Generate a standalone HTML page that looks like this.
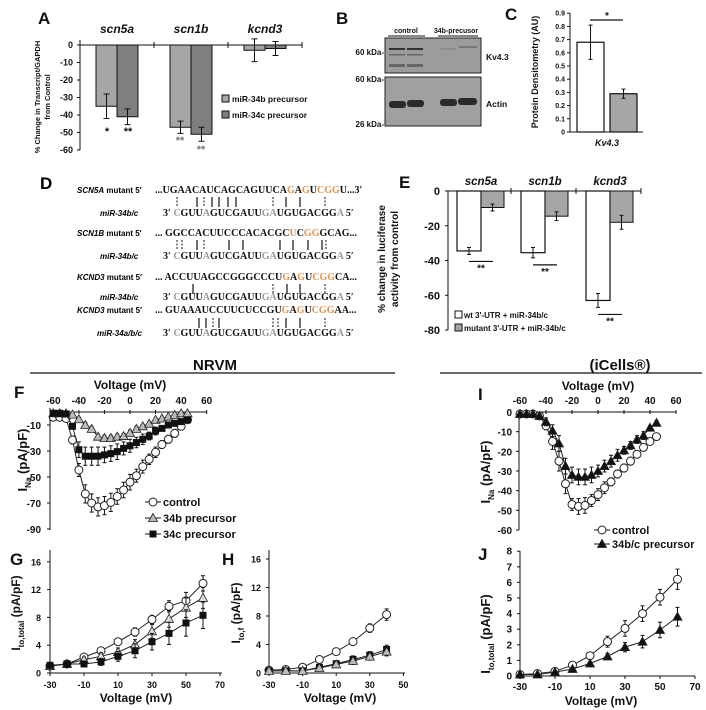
<!DOCTYPE html>
<html><head><meta charset="utf-8"><style>
html,body{margin:0;padding:0;background:#fff;}
svg{display:block;font-family:"Liberation Sans",sans-serif;}
.t{font-weight:bold;}
.sq{font-family:"Liberation Serif",serif;font-weight:bold;font-size:10px;fill:#111;}
.o{fill:#e8914a;}
.g{fill:#9a9a9a;}
</style></head><body>
<svg id="fig" width="706" height="710" viewBox="0 0 706 710" xmlns="http://www.w3.org/2000/svg">
<g>
<text x="40" y="189" font-size="17" font-weight="bold">D</text>
<text x="77" y="193" class="t" font-size="8"><tspan font-style="italic">SCN5A</tspan> mutant 5′</text>
<text x="155" y="193" class="sq">...<tspan>UGAACAUCAGCAGUUCA</tspan><tspan class="o">G</tspan>A<tspan class="o">G</tspan>U<tspan class="o">CGG</tspan>U...3′</text>
<text x="100" y="216" class="t" font-size="8" font-style="italic">miR-34b/c</text>
<text x="163" y="216" class="sq">3′ <tspan class="g">C</tspan>GUU<tspan class="g">A</tspan>GUCGAUU<tspan class="g">GA</tspan>UGUGACGG<tspan class="g">A</tspan>    5′</text>
<text x="77" y="236" class="t" font-size="8"><tspan font-style="italic">SCN1B</tspan> mutant 5′</text>
<text x="155" y="236" class="sq">...  GGCCACUUCCCACACGC<tspan class="o">U</tspan>C<tspan class="o">GG</tspan>GCAG...</text>
<text x="100" y="259" class="t" font-size="8" font-style="italic">miR-34b/c</text>
<text x="163" y="259" class="sq">3′ <tspan class="g">C</tspan>GUU<tspan class="g">A</tspan>GUCGAUU<tspan class="g">GA</tspan>UGUGACGG<tspan class="g">A</tspan>    5′</text>
<text x="77" y="280" class="t" font-size="8"><tspan font-style="italic">KCND3</tspan> mutant 5′</text>
<text x="155" y="280" class="sq">...  ACCUUAGCCGGGCCCU<tspan class="o">G</tspan>A<tspan class="o">G</tspan>U<tspan class="o">CGG</tspan>CA...</text>
<text x="100" y="300" class="t" font-size="8" font-style="italic">miR-34b/c</text>
<text x="163" y="300" class="sq">3′ <tspan class="g">C</tspan>GUU<tspan class="g">A</tspan>GUCGAUU<tspan class="g">GA</tspan>UGUGACGG<tspan class="g">A</tspan>    5′</text>
<text x="77" y="313" class="t" font-size="8"><tspan font-style="italic">KCND3</tspan> mutant 5′</text>
<text x="155" y="313" class="sq">...  GUAAAUCCUUCUCCGU<tspan class="o">G</tspan>A<tspan class="o">G</tspan>U<tspan class="o">CGG</tspan>AA...</text>
<text x="97" y="336" class="t" font-size="8" font-style="italic">miR-34a/b/c</text>
<text x="163" y="336" class="sq">3′ <tspan class="g">C</tspan>GUU<tspan class="g">A</tspan>GUCGAUU<tspan class="g">GA</tspan>UGUGACGG<tspan class="g">A</tspan>    5′</text>
<path stroke="#111" stroke-width="1.2" fill="none" d="M197 197v10M212 197v10M219 197v10M228 197v10M236 197v10M286 197v10M300 197v10 M197 240v10M229 240v10M243 240v10M280 240v10M293 240v10M308 240v10M322 240v10 M193 284v10M287 284v10M300 284v10 M199 318v10M206 318v10M219 318v10M286 318v10M300 318v10"/>
<path stroke="#111" stroke-width="1" stroke-dasharray="2,1.5" fill="none" d="M177 197v10M204 197v10M273 197v10M325 197v10 M177 240v10M182 240v10M204 240v10M326 240v10 M273 284v10M325 284v10 M213 318v10M273 318v10M278 318v10M325 318v10"/>
</g>
</svg>
<script>
// ---------- data ----------
const A_cats = ['scn5a','scn1b','kcnd3'];
const A_b = [-35,-47,-3];
const A_bErr = [7,3.5,6.5];
const A_c = [-41,-51,-2];
const A_cErr = [4.5,4,4];
const A_ticks = [0,-10,-20,-30,-40,-50,-60];

const C_cats = ['control','34b-precursor'];
const C_vals = [0.68,0.29];
const C_err = [0.13,0.035];
const C_ticks = [0,0.1,0.2,0.3,0.4,0.5,0.6,0.7,0.8,0.9];

const E_cats = ['scn5a','scn1b','kcnd3'];
const E_wt = [-34.5,-35.5,-63];
const E_wtErr = [2,3,4];
const E_mut = [-9.5,-14.5,-18];
const E_mutErr = [2,2.5,4];
const E_ticks = [0,-20,-40,-60,-80];

const NA_v = [-60,-55,-50,-45,-40,-35,-30,-25,-20,-15,-10,-5,0,5,10,15,20,25,30,35,40,45];
const F_ctrl = [-4,-4,-5,-21.5,-44.6,-63,-70,-73,-72,-69.5,-65,-60,-54,-49,-42,-36.4,-31,-25,-21,-16.4,-11,-6];
const F_ctrlErr = [1,1,1,3,5,7,7,7,7,7,6,6,6,5,5,4,4,3,3,3,2,2];
const F_b = [-1,-1,-1,-2,-5.6,-10,-13,-19,-20,-20,-19,-18.5,-16,-13,-11,-9,-6,-5,-3.6,-2.3,-1,-1];
const F_bErr = [0.5,0.5,0.5,1,1.5,2,2,2,2,2,2,2,2,2,1.5,1.5,1.5,1,1,1,1,1];
const F_c = [-1,-1,-1.5,-11,-29,-34,-34,-34,-33,-32,-30.5,-28,-26,-23.5,-21,-18.5,-14.6,-12.6,-10,-8.7,-7.4,-6];
const F_cErr = [0.5,0.5,1,2,6,7,7,7,6,6,6,5,5,4,4,3,3,2,2,2,2,2];
const F_xticks = [-60,-40,-20,0,20,40,60];
const F_yticks = [-10,-30,-50,-70,-90];

const G_v = [-30,-20,-10,0,10,20,30,40,50,60];
const G_ctrl = [1.0,1.3,2.3,3.2,4.5,5.9,7.7,9.6,10.4,12.9];
const G_ctrlErr = [0.3,0.3,0.4,0.4,0.5,0.6,0.6,0.8,1.2,1.1];
const G_b = [1.0,1.3,1.9,2.4,3.0,4.1,6.0,7.8,9.4,10.8];
const G_bErr = [0.3,0.3,0.4,0.5,0.6,0.7,1,1.2,1.4,1.5];
const G_c = [1.1,1.3,1.3,1.6,2.4,3.2,4.5,5.7,7.2,8.3];
const G_cErr = [0.4,0.3,0.4,0.5,0.7,1,1.2,1.6,1.9,1.9];
const G_xticks = [-30,-10,10,30,50,70];
const G_yticks = [0,4,8,12,16];

const H_v = [-30,-20,-10,0,10,20,30,40];
const H_ctrl = [0.4,0.5,0.8,1.9,3.0,4.4,6.3,8.2];
const H_ctrlErr = [0.2,0.2,0.2,0.3,0.4,0.4,0.6,0.8];
const H_b = [0.3,0.3,0.3,0.7,1.2,1.7,2.3,3.0];
const H_bErr = [0.1,0.1,0.1,0.3,0.4,0.5,0.5,0.6];
const H_c = [0.3,0.3,0.3,0.8,1.3,1.9,2.5,3.3];
const H_cErr = [0.1,0.1,0.1,0.3,0.4,0.5,0.5,0.6];
const H_xticks = [-30,-10,10,30,50];
const H_yticks = [0,4,8,12,16];

const I_ctrl = [-1,-1,-1,-2,-7,-15,-25,-36.5,-47,-48,-47.5,-45,-42,-38.5,-35.5,-31.5,-28.5,-25,-21.5,-18,-15,-12.5];
const I_ctrlErr = [0.5,0.5,0.5,1,2,4,5,5,3,4,4,3,3,3,2,2,2,2,1.5,1.5,1,1];
const I_tri = [-1,-1,-1,-2,-5,-9.5,-16,-27.5,-32,-33,-33,-32,-30,-27.5,-25,-22,-19.5,-17,-14,-12,-8,-5.5];
const I_triErr = [0.5,0.5,0.5,1,2,3,4,4,4,4,4,4,3,3,3,3,2,2,2,2,1,1];
const I_xticks = [-60,-40,-20,0,20,40,60];
const I_yticks = [0,-10,-20,-30,-40,-50,-60];

const J_v = [-30,-20,-10,0,10,20,30,40,50,60];
const J_ctrl = [0.1,0.15,0.3,0.7,1.3,2.2,3.05,4.0,5.05,6.2];
const J_ctrlErr = [0.05,0.05,0.1,0.1,0.15,0.35,0.5,0.5,0.5,0.65];
const J_tri = [0.1,0.1,0.25,0.45,0.8,1.25,1.85,2.2,2.95,3.8];
const J_triErr = [0.05,0.05,0.1,0.1,0.1,0.2,0.3,0.4,0.5,0.6];
const J_xticks = [-30,-10,10,30,50,70];
const J_yticks = [0,1,2,3,4,5,6,7,8];

// ---------- helpers ----------
const svg = document.getElementById('fig');
const NS = 'http://www.w3.org/2000/svg';
function mk(tag, attrs, parent){ const e=document.createElementNS(NS,tag); for(const k in attrs) e.setAttribute(k,attrs[k]); (parent||svg).appendChild(e); return e; }
function tx(x,y,s,attrs,parent){ const e=mk('text',Object.assign({x:x,y:y,'class':'t','font-size':9,fill:'#111'},attrs||{}),parent); e.textContent=s; return e; }
function grp(name){ const g=mk('g',{});   return g; }
function ln(x1,y1,x2,y2,parent,w){ return mk('line',{x1:x1,y1:y1,x2:x2,y2:y2,stroke:'#111','stroke-width':w||1},parent); }
function errBar(x,y1,y2,parent,cap){ cap=cap||3; ln(x,y1,x,y2,parent); ln(x-cap,y1,x+cap,y1,parent); ln(x-cap,y2,x+cap,y2,parent); }
function marker(type,x,y,fill,parent){
  let m;
  if(type==='circle') m=mk('circle',{cx:x,cy:y,r:4,fill:'#fff',stroke:'#222','stroke-width':1},parent);
  else if(type==='square') m=mk('rect',{x:x-3.5,y:y-3.5,width:7,height:7,fill:'#111'},parent);
  else m=mk('polygon',{points:(x)+','+(y-4.5)+' '+(x-4.5)+','+(y+3.5)+' '+(x+4.5)+','+(y+3.5),fill:fill,stroke:'#222','stroke-width':0.8},parent);
  return m;
}
function series(g, xs, ys, errs, xf, yf, type, fill, name){
  const pts = xs.map((v,i)=>xf(v)+','+yf(ys[i])).join(' ');
  const pl = mk('polyline',{points:pts,fill:'none',stroke:'#222','stroke-width':1},g);
  
  
  xs.forEach((v,i)=>{
    errBar(xf(v), yf(ys[i]-errs[i]), yf(ys[i]+errs[i]), g, 2);
  });
  xs.forEach((v,i)=>{
    const m = marker(type, xf(v), yf(ys[i]), fill, g);
    
    
  });
}
function rotLabel(x,y,parts,size,parent){
  const t=mk('text',{x:0,y:0,transform:'translate('+x+','+y+') rotate(-90)','text-anchor':'middle','font-size':size,'font-weight':'bold',fill:'#111'},parent);
  parts.forEach(p=>{ const s=mk('tspan',p.a||{},t); s.textContent=p.s; });
  return t;
}

// ---------- Panel A ----------
(function(){
  const g = grp('panel-a-transcript-chart');
  const yA = v => 45 - v*1.75;
  const cx = [117,191,265];
  tx(38,24,'A',{'font-size':17});
  A_ticks.forEach(t=>{ tx(73,yA(t)+3,String(t),{'text-anchor':'end'},g); ln(77,yA(t),80,yA(t),g); });
  ln(80,40,80,150,g);
  A_cats.forEach((c,i)=>{
    const h = tx(cx[i],33,c,{'text-anchor':'middle','font-size':12,'font-style':'italic'},g);
    
    
    const b = mk('rect',{x:cx[i]-21,y:yA(0),width:21,height:yA(A_b[i])-yA(0),fill:'#a6a6a6',stroke:'#111'},g);
    
    
    const b2 = mk('rect',{x:cx[i],y:yA(0),width:21,height:yA(A_c[i])-yA(0),fill:'#7f7f7f',stroke:'#111'},g);
    
    
    errBar(cx[i]-10.5, yA(A_b[i]-A_bErr[i]), yA(A_b[i]+A_bErr[i]), g);
    errBar(cx[i]+10.5, yA(A_c[i]-A_cErr[i]), yA(A_c[i]+A_cErr[i]), g);
  });
  ln(80,45,302,45,g); [154,228,302].forEach(x=>ln(x,42,x,48,g));
  tx(107,135,'*',{'font-size':11,'text-anchor':'middle'},g);
  tx(128,135,'**',{'font-size':11,'text-anchor':'middle'},g);
  tx(180,144,'**',{'font-size':11,'text-anchor':'middle','fill':'#777'},g);
  tx(201,153,'**',{'font-size':11,'text-anchor':'middle','fill':'#777'},g);
  const l1=mk('rect',{x:222,y:95,width:7,height:7,fill:'#a6a6a6',stroke:'#111'},g);
  
  
  tx(232,102,'miR-34b precursor',{'font-size':8.5},g);
  const l2=mk('rect',{x:222,y:111,width:7,height:7,fill:'#7f7f7f',stroke:'#111'},g);
  
  
  tx(232,118,'miR-34c precursor',{'font-size':8.5},g);
  rotLabel(40,97,[{s:'% Change in Transcript/GAPDH'}],7.5,g);
  rotLabel(50,97,[{s:'from Control'}],7.5,g);
})();

// ---------- Panel B (western blot) ----------
(function(){
  const g = grp('panel-b-western-blot');
  tx(336,24,'B',{'font-size':17});
  tx(406,33,'control',{'text-anchor':'middle','font-size':7,'font-weight':'normal'},g);
  tx(456,33,'34b-precusor',{'text-anchor':'middle','font-size':7,'font-weight':'normal'},g);
  ln(388,36,425,36,g); ln(438,36,478,36,g);
  mk('rect',{x:385,y:38,width:96,height:35,fill:'#9c9c9c',stroke:'#222'},g);
  mk('rect',{x:385,y:77,width:96,height:49,fill:'#a0a0a0',stroke:'#222'},g);
  [[389,48,16,2,'#333'],[407,48,16,2,'#333'],[389,54,16,1.5,'#666'],[407,54,16,1.5,'#666'],[389,64,16,3,'#666'],[407,64,16,3,'#666'],[441,48,16,1.5,'#888'],[459,46,18,2,'#777']].forEach(b=>mk('rect',{x:b[0],y:b[1],width:b[2],height:b[3],fill:b[4]},g));
  [[389,101,17,7],[407,100,17,7],[440,99,17,7],[458,98,19,7]].forEach(b=>mk('rect',{x:b[0],y:b[1],width:b[2],height:b[3],rx:3,fill:'#2a2a2a'},g));
  tx(384,55,'60 kDa-',{'text-anchor':'end','font-size':8,'font-weight':'normal'},g);
  tx(384,82,'60 kDa-',{'text-anchor':'end','font-size':8,'font-weight':'normal'},g);
  tx(384,127,'26 kDa-',{'text-anchor':'end','font-size':8,'font-weight':'normal'},g);
  tx(486,60,'Kv4.3',{'font-size':8.5,'font-weight':'normal'},g);
  tx(486,107,'Actin',{'font-size':8.5,'font-weight':'normal'},g);
})();

// ---------- Panel C ----------
(function(){
  const g = grp('panel-c-densitometry-chart');
  const yC = v => 132 - v*132;
  tx(505,20,'C',{'font-size':17});
  C_ticks.forEach(t=>{ tx(565,yC(t)+2.5,String(t),{'text-anchor':'end','font-size':7},g); ln(567,yC(t),570,yC(t),g); });
  ln(570,13,570,132,g); ln(570,132,643,132,g);
  const xs=[577,610];
  C_vals.forEach((v,i)=>{
    const b=mk('rect',{x:xs[i],y:yC(v),width:27,height:132-yC(v),fill:i?'#a6a6a6':'#fff',stroke:'#111','stroke-width':1.2},g);
    
    
    errBar(xs[i]+13.5,yC(v-C_err[i]),yC(v+C_err[i]),g,2);
  });
  ln(590,20,623,20,g,1.3); tx(607,19,'*',{'text-anchor':'middle','font-size':10},g);
  tx(607,146,'Kv4.3',{'text-anchor':'middle','font-size':9,'font-style':'italic'},g);
  rotLabel(538,72,[{s:'Protein Densitometry (AU)'}],9,g);
})();

// ---------- Panel E ----------
(function(){
  const g = grp('panel-e-luciferase-chart');
  const yE = v => 191 - v*1.7375;
  const cx=[481,545,610];
  tx(399,188,'E',{'font-size':17});
  E_ticks.forEach(t=>{ tx(440,yE(t)+4,String(t),{'text-anchor':'end','font-size':11},g); ln(445,yE(t),448,yE(t),g); });
  ln(448,191,448,330,g); ln(448,191,641,191,g); [511,576,641].forEach(x=>ln(x,188,x,194,g));
  E_cats.forEach((c,i)=>{
    tx(cx[i],185,c,{'text-anchor':'middle','font-size':11.5,'font-style':'italic'},g);
    const b=mk('rect',{x:cx[i]-24,y:yE(0),width:24,height:yE(E_wt[i])-yE(0),fill:'#fff',stroke:'#111','stroke-width':1.2},g);
    
    
    const b2=mk('rect',{x:cx[i],y:yE(0),width:23,height:yE(E_mut[i])-yE(0),fill:'#a6a6a6',stroke:'#111'},g);
    
    
    errBar(cx[i]-12,yE(E_wt[i]-E_wtErr[i]),yE(E_wt[i]+E_wtErr[i]),g,2);
    errBar(cx[i]+11.5,yE(E_mut[i]-E_mutErr[i]),yE(E_mut[i]+E_mutErr[i]),g,2);
    const ly = yE(E_wt[i]-E_wtErr[i])+7;
    ln(cx[i]-12,ly,cx[i]+12,ly,g,1.2);
    tx(cx[i],ly+10,'**',{'text-anchor':'middle','font-size':10},g);
  });
  const s1=mk('rect',{x:455,y:311,width:7,height:7,fill:'#fff',stroke:'#111'},g);
  
  
  tx(464,318,"wt 3'-UTR + miR-34b/c",{'font-size':8},g);
  const s2=mk('rect',{x:455,y:324,width:7,height:7,fill:'#a6a6a6',stroke:'#111'},g);
  
  
  tx(464,331,"mutant 3'-UTR + miR-34b/c",{'font-size':8},g);
  rotLabel(385,259,[{s:'% change in luciferase'}],10,g);
  rotLabel(398,259,[{s:'activity from control'}],10,g);
})();

// ---------- headers ----------
(function(){
  const g=grp('section-headers');
  tx(215,370,'NRVM',{'text-anchor':'middle','font-size':15},g);
  ln(30,373,395,373,g,1.2);
  tx(620,370,'(iCells®)',{'text-anchor':'middle','font-size':15},g);
  ln(440,373,702,373,g,1.2);
})();

// ---------- Panel F ----------
(function(){
  const g=grp('panel-f-ina-chart');
  const xF = v => 130 + v*1.278;
  const yF = v => 412 - v*1.3;
  tx(14,398,'F',{'font-size':17});
  tx(130,389,'Voltage (mV)',{'text-anchor':'middle','font-size':12},g);
  F_xticks.forEach(t=>{ tx(xF(t),404,String(t),{'text-anchor':'middle','font-size':10},g); ln(xF(t),410,xF(t),414,g); });
  ln(50,412,207,412,g); ln(50,408,50,530,g);
  F_yticks.forEach(t=>{ tx(41,yF(t)+4,String(t),{'text-anchor':'end','font-size':10},g); ln(47,yF(t),50,yF(t),g); });
  series(g,NA_v,F_ctrl,F_ctrlErr,xF,yF,'circle','#fff','control');
  series(g,NA_v,F_b,F_bErr,xF,yF,'tri','#bbb','34b-precursor');
  series(g,NA_v,F_c,F_cErr,xF,yF,'square','#111','34c-precursor');
  rotLabel(27,460,[{s:'I'},{s:'Na',a:{'font-size':8,dy:4}},{s:' (pA/pF)',a:{dy:-4}}],13,g);
  const L=[['circle','#fff','control',502],['tri','#bbb','34b precursor',518],['square','#111','34c precursor',534]];
  L.forEach(l=>{ ln(145,l[3],161,l[3],g); const m=marker(l[0],153,l[3],l[1],g);
    
    
    tx(163,l[3]+4,l[2],{'font-size':11},g); });
})();

// ---------- Panel G ----------
(function(){
  const g=grp('panel-g-ito-total-chart');
  const xG = v => 50 + (v+30)*1.7;
  const yG = v => 673 - v*6.95;
  tx(10,565,'G',{'font-size':17});
  ln(50,550,50,673,g); ln(50,673,222,673,g);
  G_yticks.forEach(t=>{ tx(41,yG(t)+3.5,String(t),{'text-anchor':'end','font-size':9},g); ln(47,yG(t),50,yG(t),g); });
  G_xticks.forEach(t=>{ tx(xG(t),688,String(t),{'text-anchor':'middle','font-size':9},g); ln(xG(t),673,xG(t),676,g); });
  tx(136,702,'Voltage (mV)',{'text-anchor':'middle','font-size':12},g);
  series(g,G_v,G_ctrl,G_ctrlErr,xG,yG,'circle','#fff','g-control');
  series(g,G_v,G_b,G_bErr,xG,yG,'tri','#ddd','g-34b');
  series(g,G_v,G_c,G_cErr,xG,yG,'square','#111','g-34c');
  rotLabel(20,613,[{s:'I'},{s:'to,total',a:{'font-size':8,dy:4}},{s:' (pA/pF)',a:{dy:-4}}],12,g);
})();

// ---------- Panel H ----------
(function(){
  const g=grp('panel-h-itof-chart');
  const xH = v => 269 + (v+30)*1.68;
  const yH = v => 673 - v*7.125;
  tx(222,565,'H',{'font-size':17});
  ln(269,550,269,673,g); ln(269,673,405,673,g);
  H_yticks.forEach(t=>{ tx(261,yH(t)+3.5,String(t),{'text-anchor':'end','font-size':9},g); ln(266,yH(t),269,yH(t),g); });
  H_xticks.forEach(t=>{ tx(xH(t),688,String(t),{'text-anchor':'middle','font-size':9},g); ln(xH(t),673,xH(t),676,g); });
  tx(340,702,'Voltage (mV)',{'text-anchor':'middle','font-size':12},g);
  series(g,H_v,H_ctrl,H_ctrlErr,xH,yH,'circle','#fff','h-control');
  series(g,H_v,H_c,H_cErr,xH,yH,'square','#111','h-34c');
  series(g,H_v,H_b,H_bErr,xH,yH,'tri','#bbb','h-34b');
  rotLabel(240,613,[{s:'I'},{s:'to,f',a:{'font-size':8,dy:4}},{s:' (pA/pF)',a:{dy:-4}}],12,g);
})();

// ---------- Panel I ----------
(function(){
  const g=grp('panel-i-ina-icells-chart');
  const xI = v => 598 + v*1.3;
  const yI = v => 412 - v*1.967;
  tx(478,400,'I',{'font-size':17});
  tx(598,390,'Voltage (mV)',{'text-anchor':'middle','font-size':12},g);
  I_xticks.forEach(t=>{ tx(xI(t),404,String(t),{'text-anchor':'middle','font-size':10},g); ln(xI(t),410,xI(t),414,g); });
  ln(519,412,676,412,g); ln(519,410,519,530,g);
  I_yticks.forEach(t=>{ tx(512,yI(t)+4,String(t),{'text-anchor':'end','font-size':10},g); ln(516,yI(t),519,yI(t),g); });
  series(g,NA_v,I_ctrl,I_ctrlErr,xI,yI,'circle','#fff','i-control');
  series(g,NA_v,I_tri,I_triErr,xI,yI,'tri','#111','i-34bc');
  rotLabel(490,472,[{s:'I'},{s:'Na',a:{'font-size':8,dy:4}},{s:' (pA/pF)',a:{dy:-4}}],13,g);
  ln(594,530,610,530,g); const m1=marker('circle',602,530,'#fff',g);
  
  
  tx(612,534,'control',{'font-size':11},g);
  ln(594,544,610,544,g); const m2=marker('tri',602,544,'#111',g);
  
  
  tx(612,548,'34b/c precursor',{'font-size':11},g);
})();

// ---------- Panel J ----------
(function(){
  const g=grp('panel-j-ito-icells-chart');
  const xJ = v => 520 + (v+30)*1.75;
  const yJ = v => 676 - v*15.6;
  tx(478,560,'J',{'font-size':17});
  ln(520,551,520,676,g); ln(520,676,695,676,g);
  J_yticks.forEach(t=>{ tx(512,yJ(t)+3.5,String(t),{'text-anchor':'end','font-size':10},g); ln(517,yJ(t),520,yJ(t),g); });
  J_xticks.forEach(t=>{ tx(xJ(t),690,String(t),{'text-anchor':'middle','font-size':10},g); ln(xJ(t),676,xJ(t),679,g); });
  tx(601,705,'Voltage (mV)',{'text-anchor':'middle','font-size':12},g);
  series(g,J_v,J_ctrl,J_ctrlErr,xJ,yJ,'circle','#fff','j-control');
  series(g,J_v,J_tri,J_triErr,xJ,yJ,'tri','#111','j-34bc');
  rotLabel(490,634,[{s:'I'},{s:'to,total',a:{'font-size':8,dy:4}},{s:' (pA/pF)',a:{dy:-4}}],13,g);
})();
</script>
</body></html>
